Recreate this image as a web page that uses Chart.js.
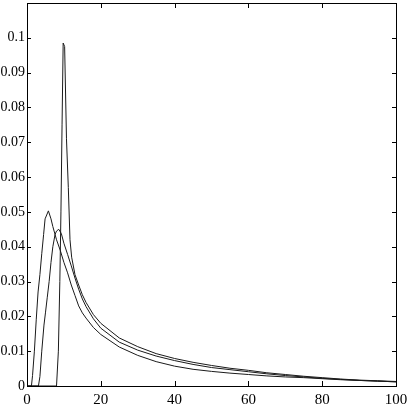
<!DOCTYPE html>
<html>
<head>
<meta charset="utf-8">
<script src="https://cdn.jsdelivr.net/npm/chart.js@4"></script>
<style>
  html, body { margin: 0; padding: 0; background: #fff; }
  #wrap { width: 409px; height: 409px; }
</style>
</head>
<body>
<div id="wrap"><canvas id="myChart" width="409" height="409"></canvas></div>
<script>
// curve with the early, lower peak
const xA = [0, 1.2, 1.5, 2, 2.5, 3, 3.5, 4, 4.5, 4.9, 5.8, 6.5, 7, 8, 9, 10, 11, 12, 13, 14, 15, 16, 18, 20, 25, 30, 35, 40, 45, 50, 55, 60, 65, 70, 75, 80, 85, 90, 95, 100];
const yA = [0, 0, 0.003, 0.01, 0.019, 0.027, 0.032, 0.038, 0.0435, 0.048, 0.0503, 0.048, 0.0458, 0.042, 0.039, 0.0355, 0.0325, 0.029, 0.026, 0.023, 0.021, 0.0195, 0.0168, 0.0148, 0.0112, 0.0088, 0.007, 0.0057, 0.0048, 0.0042, 0.0037, 0.0033, 0.0029, 0.0026, 0.0024, 0.0021, 0.0018, 0.0016, 0.0014, 0.0012];

// curve with the middle peak
const xB = [0, 3.1, 3.5, 4, 4.6, 5, 5.5, 6, 6.5, 7, 7.6, 8, 8.6, 9.3, 10, 11, 12, 13, 14, 15, 16, 18, 20, 25, 30, 35, 40, 45, 50, 55, 60, 65, 70, 75, 80, 85, 90, 95, 100];
const yB = [0, 0, 0.0027, 0.01, 0.0175, 0.021, 0.0255, 0.03, 0.0355, 0.04, 0.0435, 0.0445, 0.045, 0.0438, 0.041, 0.0378, 0.0345, 0.031, 0.0278, 0.025, 0.0228, 0.0193, 0.0166, 0.0126, 0.0103, 0.0086, 0.0073, 0.0062, 0.0053, 0.0047, 0.0041, 0.0035, 0.003, 0.0026, 0.0022, 0.0019, 0.0016, 0.0014, 0.0012];

// curve with the sharp spike
const xC = [0, 8, 8.5, 8.9, 9.2, 9.5, 9.8, 10.2, 10.7, 11.2, 11.65, 12.1, 13, 14, 15, 16, 18, 20, 25, 30, 35, 40, 45, 50, 55, 60, 65, 70, 75, 80, 85, 90, 95, 100];
const yC = [0, 0, 0.01, 0.03, 0.05, 0.075, 0.0985, 0.0975, 0.071, 0.057, 0.042, 0.037, 0.032, 0.029, 0.0262, 0.024, 0.0205, 0.018, 0.0138, 0.0113, 0.0093, 0.0079, 0.0068, 0.0059, 0.0051, 0.0045, 0.0038, 0.0033, 0.0028, 0.0024, 0.002, 0.0017, 0.0015, 0.0013];

const xTicks = [0, 20, 40, 60, 80, 100];
const yTicks = [0, 0.01, 0.02, 0.03, 0.04, 0.05, 0.06, 0.07, 0.08, 0.09, 0.1];

const pts = (xs, ys) => xs.map((x, i) => ({x: x, y: ys[i]}));

function lineSet(xs, ys) {
    return {
        data: pts(xs, ys),
        showLine: true,
        borderColor: '#1a1a1a',
        borderWidth: 1,
        pointRadius: 0,
        tension: 0,
        fill: false
    };
}

// box around the plot plus inward tick marks on all four sides
const boxTicks = {
    id: 'boxTicks',
    afterDraw(chart) {
        const c = chart.ctx;
        const a = chart.chartArea;
        const xs = chart.scales.x, ys = chart.scales.y;
        c.save();
        c.strokeStyle = '#000';
        c.lineWidth = 1;
        c.strokeRect(a.left + 0.5, a.top + 0.5, a.right - a.left, a.bottom - a.top);
        c.beginPath();
        xTicks.forEach(v => {
            const px = Math.round(xs.getPixelForValue(v)) + 0.5;
            c.moveTo(px, a.bottom); c.lineTo(px, a.bottom - 5);
            c.moveTo(px, a.top); c.lineTo(px, a.top + 5);
        });
        yTicks.forEach(v => {
            const py = Math.round(ys.getPixelForValue(v)) + 0.5;
            c.moveTo(a.left, py); c.lineTo(a.left + 4, py);
            c.moveTo(a.right, py); c.lineTo(a.right - 4, py);
        });
        c.stroke();
        c.restore();
    }
};

const ctx = document.getElementById('myChart').getContext('2d');
Chart.defaults.font.family = '"Liberation Serif", "DejaVu Serif", serif';
Chart.defaults.color = '#000';

new Chart(ctx, {
    type: 'scatter',
    data: {
        datasets: [lineSet(xA, yA), lineSet(xB, yB), lineSet(xC, yC)]
    },
    options: {
        responsive: false,
        animation: false,
        layout: { padding: { left: 0, right: 13, top: 3, bottom: 0 } },
        plugins: { legend: { display: false }, tooltip: { enabled: false } },
        scales: {
            x: {
                type: 'linear',
                min: 0, max: 100,
                grid: { display: false, drawTicks: false },
                border: { display: false },
                afterBuildTicks: s => { s.ticks = xTicks.map(v => ({value: v})); },
                afterFit: s => { s.height = 23; s.paddingLeft = 0; s.paddingRight = 0; },
                ticks: { font: { size: 15 }, padding: 5, maxRotation: 0, autoSkip: false }
            },
            y: {
                type: 'linear',
                min: 0, max: 0.11,
                grid: { display: false, drawTicks: false },
                border: { display: false },
                afterBuildTicks: s => { s.ticks = yTicks.map(v => ({value: v})); },
                afterFit: s => { s.width = 27; s.paddingTop = 0; s.paddingBottom = 0; },
                ticks: {
                    font: { size: 14 }, padding: 2, autoSkip: false,
                    callback: v => String(Number(v.toFixed(2)))
                }
            }
        }
    },
    plugins: [boxTicks]
});
</script>
</body>
</html>
